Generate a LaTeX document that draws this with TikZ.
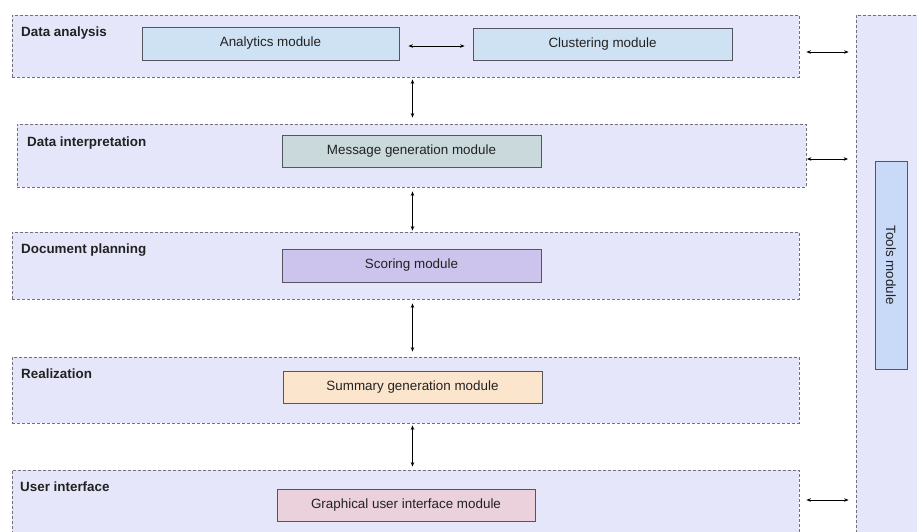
\documentclass[tikz,border=0pt]{standalone}
\usepackage{fontspec}
\setmainfont{Liberation Sans}
\usetikzlibrary{arrows.meta}
\definecolor{layerfill}{HTML}{E6E6FA}
\definecolor{layerline}{HTML}{707078}
\definecolor{boxline}{HTML}{555560}
\definecolor{cblue}{HTML}{CFE2F3}
\definecolor{cteal}{HTML}{CAD9DB}
\definecolor{cpurple}{HTML}{CCC4EC}
\definecolor{corange}{HTML}{FCE5CD}
\definecolor{cpink}{HTML}{EAD1DC}
\definecolor{ctools}{HTML}{C9DAF8}
\definecolor{txt}{HTML}{222222}
\tikzset{
  layer/.style={draw=layerline, fill=layerfill, line width=0.8pt,
    dash pattern=on 3pt off 2pt, rectangle, inner sep=0pt},
  modbox/.style={draw=boxline, line width=0.8pt, rectangle, inner sep=0pt,
    text=txt, font=\fontsize{13.4}{16}\selectfont},
  layerlabel/.style={anchor=base west, inner sep=0pt, text=txt,
    font=\fontsize{13.4}{16}\selectfont\bfseries},
  biarrow/.style={draw=black, line width=0.8pt,
    {Stealth[length=4.5pt,width=3.5pt]}-{Stealth[length=4.5pt,width=3.5pt]}}
}
\begin{document}
\begin{tikzpicture}[x=1pt,y=-1pt]
\useasboundingbox (0,0) rectangle (917,532);
\clip (0,0) rectangle (917,532);
% tools column
\node[layer, minimum width=90pt, minimum height=535pt] (tl) at (901,282.5) {};
\node[modbox, fill=ctools, minimum width=32pt, minimum height=208pt] (tools) at (891,265)
  {\rotatebox{-90}{Tools module}};
% layers
\node[layer, minimum width=787pt, minimum height=62pt] (da) at (405.5,46) {};
\node[layer, minimum width=789pt, minimum height=63pt] (di) at (411.5,155.5) {};
\node[layer, minimum width=787pt, minimum height=67pt] (dp) at (405.5,265.5) {};
\node[layer, minimum width=787pt, minimum height=66pt] (re) at (405.5,390) {};
\node[layer, minimum width=787pt, minimum height=90pt] (ui) at (405.5,515) {};
% labels
\node[layerlabel] (lda) at (21,36.5) {Data analysis};
\node[layerlabel] (ldi) at (27,146) {Data interpretation};
\node[layerlabel] (ldp) at (21,253) {Document planning};
\node[layerlabel] (lre) at (21,378) {Realization};
\node[layerlabel] (lui) at (20,491) {User interface};
% modules
\node[modbox, fill=cblue, minimum width=257pt, minimum height=33pt] (an) at (270.5,43.5) {Analytics module};
\node[modbox, fill=cblue, minimum width=259pt, minimum height=32pt] (cl) at (602.5,44) {Clustering module};
\node[modbox, fill=cteal, minimum width=259pt, minimum height=32pt] (mg) at (411.5,151) {Message generation module};
\node[modbox, fill=cpurple, minimum width=259pt, minimum height=33pt] (sc) at (411.5,265.5) {Scoring module};
\node[modbox, fill=corange, minimum width=259pt, minimum height=32pt] (sg) at (412.5,387) {Summary generation module};
\node[modbox, fill=cpink, minimum width=258pt, minimum height=32pt] (gui) at (406,505) {Graphical user interface module};
% column for vertical arrows
\coordinate (vx) at (412.5,0);
% arrows
\draw[biarrow, shorten <=9pt, shorten >=8pt] ([yshift=-2.5pt]an.east) -- ([yshift=-2.5pt]an.east -| cl.west);
\draw[biarrow, shorten <=2pt, shorten >=6pt] (da.south -| vx) -- (di.north -| vx);
\draw[biarrow, shorten <=4pt, shorten >=1pt] (di.south -| vx) -- (dp.north -| vx);
\draw[biarrow, shorten <=4pt, shorten >=5pt] (dp.south -| vx) -- (re.north -| vx);
\draw[biarrow, shorten <=2pt, shorten >=3pt] (re.south -| vx) -- (ui.north -| vx);
\draw[biarrow, shorten <=7pt, shorten >=7pt] ([yshift=-6pt]da.east) -- ([yshift=-6pt]da.east -| tl.west);
\draw[biarrow, shorten <=0.5pt, shorten >=7.5pt] ([yshift=-3.5pt]di.east) -- ([yshift=-3.5pt]di.east -| tl.west);
\draw[biarrow, shorten <=7pt, shorten >=7pt] (ui.east |- 0,500) -- (tl.west |- 0,500);
\end{tikzpicture}
\end{document}
